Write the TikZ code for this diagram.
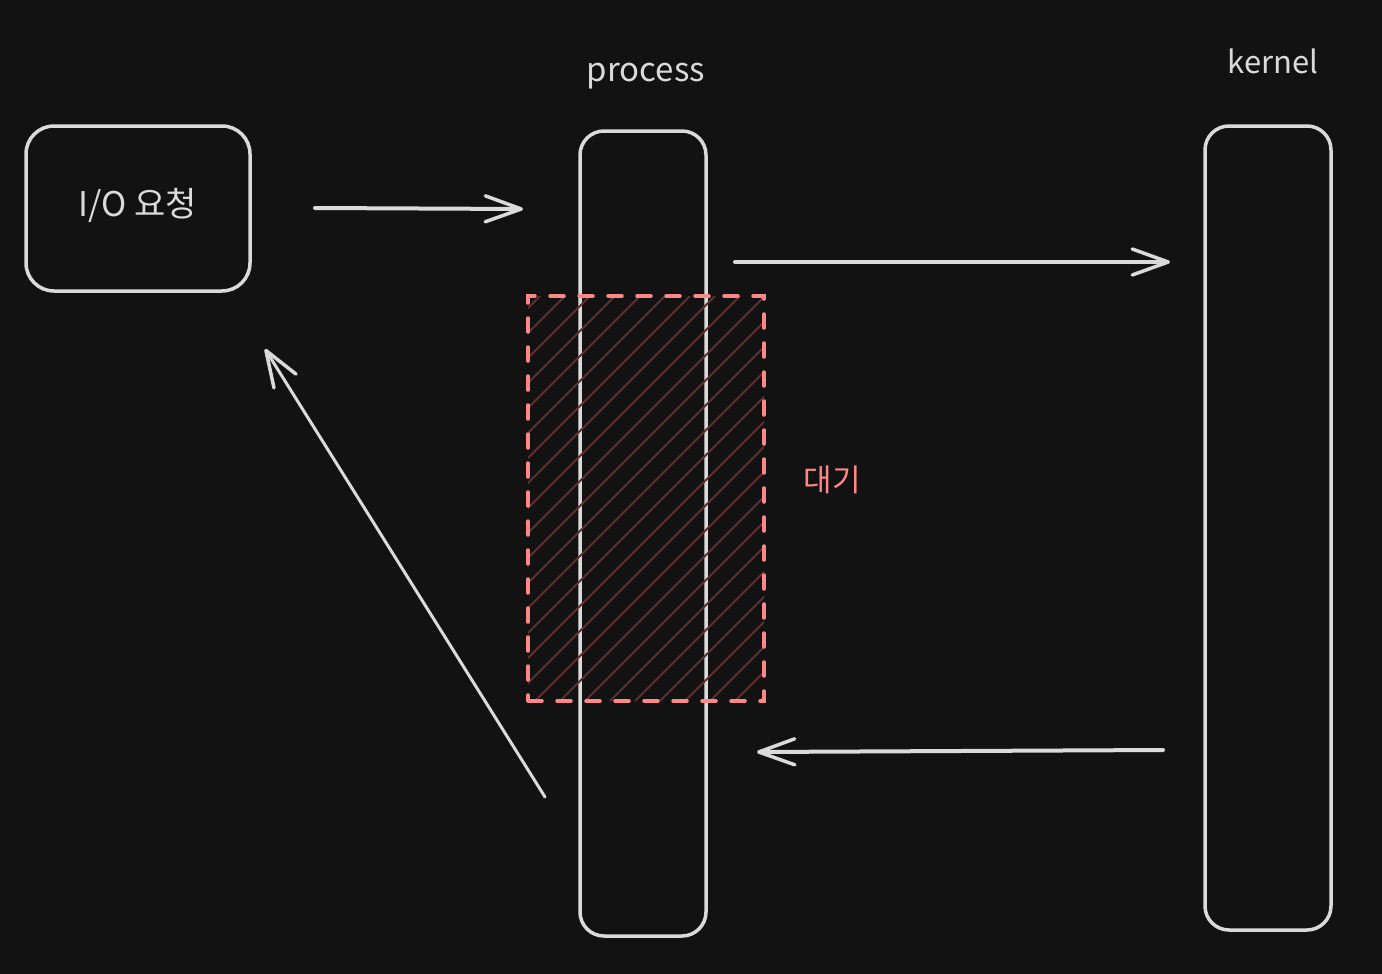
\documentclass[tikz,border=0pt]{standalone}
\usepackage{fontspec}
\setmainfont{Noto Sans CJK KR}
\usetikzlibrary{arrows.meta}
\definecolor{bg}{HTML}{121212}
\definecolor{ink}{HTML}{DADADA}
\definecolor{redink}{HTML}{FF8787}
\definecolor{hatchc}{HTML}{603030}
\begin{document}
\begin{tikzpicture}[x=1pt,y=-1pt,
  box/.style={draw=ink, line width=3.5pt, rounded corners=28pt, inner sep=0pt},
  lbl/.style={text=ink, inner sep=0pt},
  arr/.style={draw=ink, line width=4pt, line cap=round,
    -{Straight Barb[length=36pt,width=26pt,line width=3.5pt,round]}},
]
\fill[bg] (0,0) rectangle (1382,974);
\useasboundingbox (0,0) rectangle (1382,974);

% boxes
\node[box, minimum width=224pt, minimum height=165pt] (io) at (138,208.5) {};
\node[lbl, font=\fontsize{34}{38}\selectfont] (iotext) at (138,205) {I/O 요청};
\node[box, rounded corners=24pt, minimum width=126pt, minimum height=805pt] (proc) at (643,533.5) {};
\node[lbl, font=\fontsize{33}{37}\selectfont] (proclabel) at (646,76) {process};
\node[box, rounded corners=24pt, minimum width=126pt, minimum height=804pt] (kern) at (1268,528) {};
\node[lbl, font=\fontsize{31}{35}\selectfont] (kernlabel) at (1273,61) {kernel};

% hatched waiting region
\begin{scope}
  \clip (528,296) rectangle (764,701);
  \foreach \i in {0,...,27} {
    \draw[hatchc, line width=2pt] ({110+\i*25},701) -- ++(405,-405);
  }
\end{scope}
\node[draw=redink, line width=3.5pt, dash pattern=on 14pt off 15pt, line cap=round,
  minimum width=236pt, minimum height=405pt, inner sep=0pt] (wait) at (646,498.5) {};
\node[text=redink, font=\fontsize{31}{35}\selectfont, inner sep=0pt] (waitlabel) at (832,480) {대기};

% connectors
\coordinate (a1s) at (315,208);
\coordinate (a1e) at (523,209);
\coordinate (a2s) at (735,262);
\coordinate (a2e) at (1170,262);
\coordinate (a3s) at (1163,750);
\coordinate (a3e) at (757,752);
\coordinate (a4s) at (545,797);
\coordinate (a4e) at (265,349);
\draw[arr] (a1s) -- (a1e);
\draw[arr] (a2s) -- (a2e);
\draw[arr] (a3s) -- (a3e);
\draw[arr, line width=3pt] (a4s) -- (a4e);
\end{tikzpicture}
\end{document}
